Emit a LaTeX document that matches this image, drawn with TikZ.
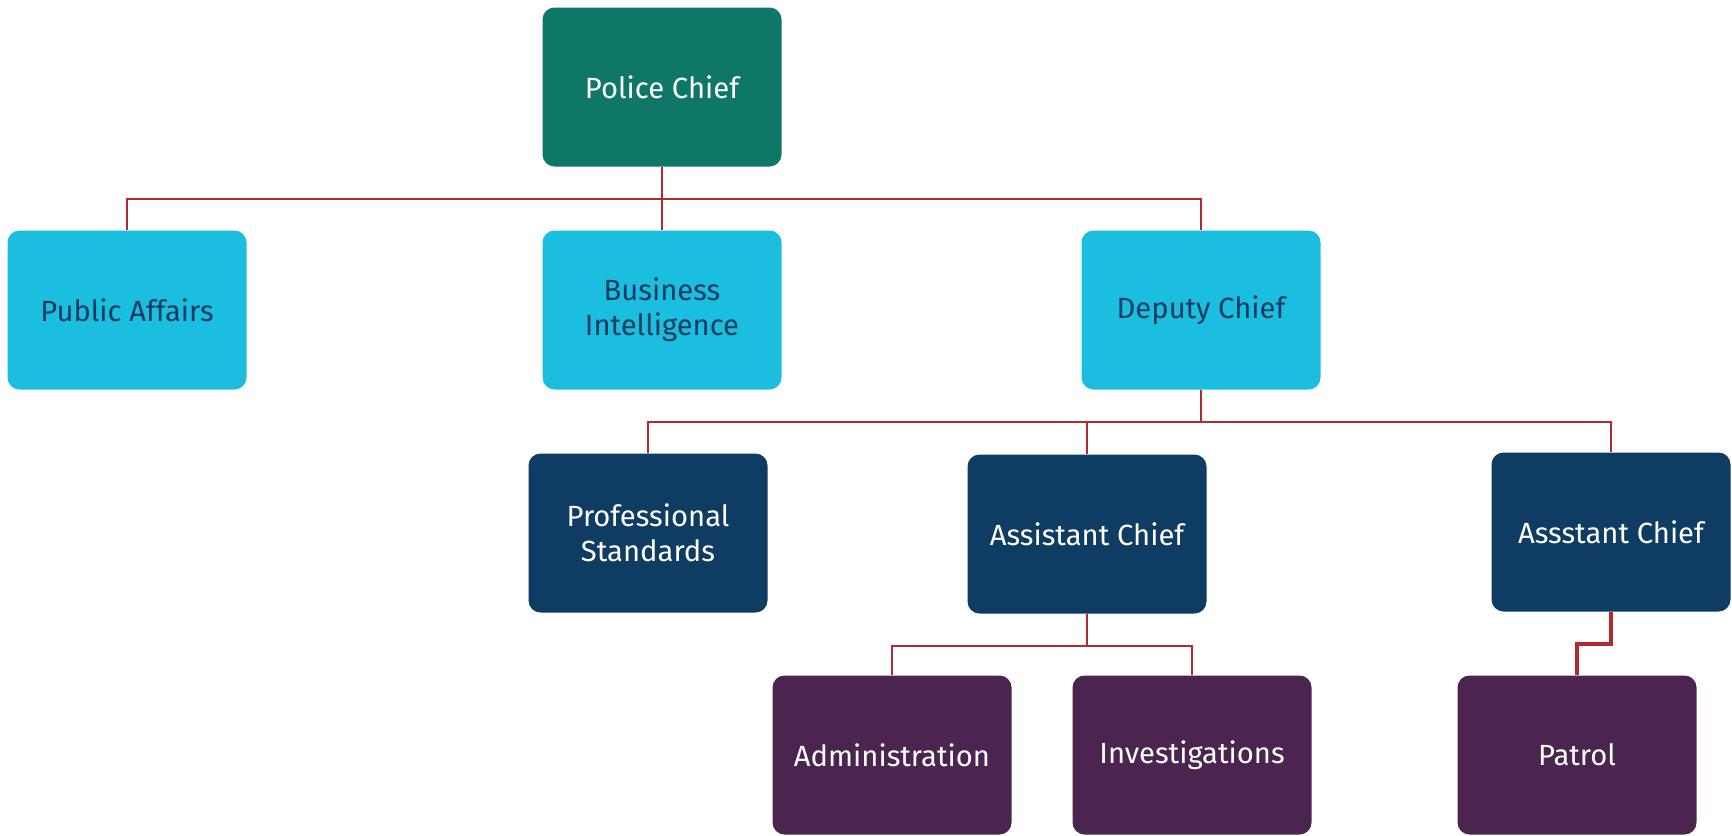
\documentclass[tikz,border=0pt]{standalone}
\usepackage{fontspec}
\setmainfont{Fira Sans}
\usepackage{xcolor}
\usepackage{tikz}
\usetikzlibrary{positioning}
\definecolor{chiefteal}{HTML}{0E7768}
\definecolor{staffcyan}{HTML}{1BBEDE}
\definecolor{cmdnavy}{HTML}{0E3C63}
\definecolor{unitplum}{HTML}{4B2550}
\definecolor{linkred}{HTML}{B22A2E}
\tikzset{
  box/.style={
    rounded corners=6pt,
    align=center,
    font=\fontsize{14.6}{17.5}\selectfont,
    minimum width=119.5pt,
    minimum height=79.5pt,
    inner sep=3pt
  },
  chief/.style={box, fill=chiefteal, text=white},
  staff/.style={box, fill=staffcyan, text=cmdnavy},
  command/.style={box, fill=cmdnavy, text=white},
  unit/.style={box, fill=unitplum, text=white},
  link/.style={draw=linkred, line width=1pt},
  heavylink/.style={draw=linkred, line width=2.4pt}
}

\begin{document}
\begin{tikzpicture}[x=0.5pt, y=-0.5pt]
  \useasboundingbox (0,0) rectangle (1732,835);

  \node[chief] (chief) at (662,87) {Police Chief};

  \node[staff] (public) at (127,310) {Public Affairs};
  \node[staff] (bizintel) at (662,310) {Business\\Intelligence};
  \node[staff] (deputy) at (1201,310) {Deputy Chief};

  \node[command] (profstd) at (648,533) {Professional\\Standards};
  \node[command] (asstleft) at (1087,534) {Assistant Chief};
  \node[command] (asstright) at (1611,532) {Assstant Chief};

  \node[unit] (admin) at (892,755) {Administration};
  \node[unit] (invest) at (1192,755) {Investigations};
  \node[unit] (patrol) at (1577,755) {Patrol};

  % chief to staff
  \draw[link] (chief.south) -- ++(0,-16pt) -| (public.north);
  \draw[link] (chief.south) -- (bizintel.north);
  \draw[link] (chief.south) -- ++(0,-16pt) -| (deputy.north);

  % deputy to commands
  \draw[link] (deputy.south) -- ++(0,-16pt) -| (profstd.north);
  \draw[link] (deputy.south) -- ++(0,-16pt) -| (asstleft.north);
  \draw[link] (deputy.south) -- ++(0,-16pt) -| (asstright.north);

  % commands to units
  \draw[link] (asstleft.south) -- ++(0,-16pt) -| (admin.north);
  \draw[link] (asstleft.south) -- ++(0,-16pt) -| (invest.north);
  \draw[heavylink] (asstright.south) -- ++(0,-16pt) -| (patrol.north);
\end{tikzpicture}
\end{document}
